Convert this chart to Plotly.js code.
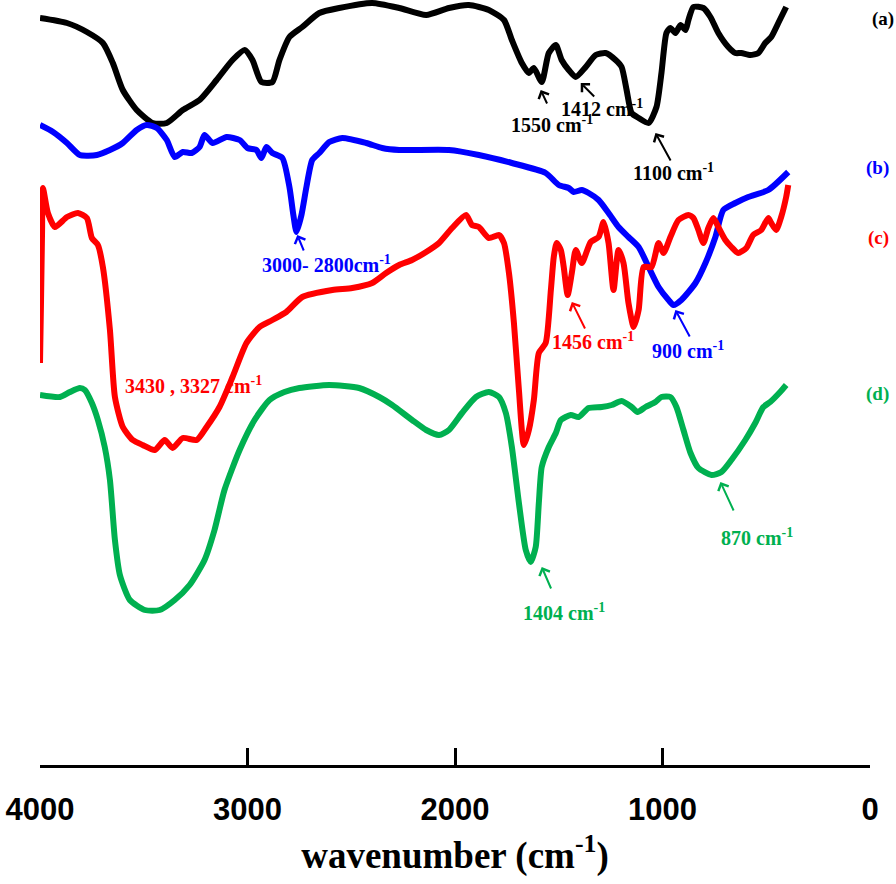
<!DOCTYPE html>
<html>
<head>
<meta charset="utf-8">
<script src="https://cdn.plot.ly/plotly-3.0.1.min.js"></script>
<style>html,body{margin:0;padding:0;background:#fff}#chart{width:896px;height:884px}</style>
</head>
<body>
<div id="chart"></div>
<script>
// FTIR spectra, wavenumber (cm-1) vs transmittance (arbitrary offset units)
const wnA = [4000,3870,3774,3697,3649,3601,3534,3457,3389,3312,3231,3149,3072,3014,2976,2933,2880,2846,2798,2736,2654,2558,2399,2269,2139,2029,1933,1837,1764,1726,1678,1644,1620,1582,1548,1514,1486,1452,1418,1370,1322,1274,1226,1197,1173,1149,1115,1067,1029,1005,981,962,938,913,889,875,851,803,769,731,683,649,620,577,538,505,476,442,404];
const tA  = [747,742,733,722,702,675,655,642,642,655,665,685,705,715,705,683,683,705,728,738,752,757,762,757,750,757,760,755,745,725,702,692,697,683,712,720,705,695,688,698,710,712,705,698,675,652,647,642,658,692,732,737,732,740,735,745,758,757,748,732,718,712,712,710,712,722,728,742,758];

const wnB = [4000,3937,3870,3808,3726,3663,3601,3534,3486,3437,3389,3351,3312,3269,3231,3207,3168,3101,3038,3000,2957,2933,2909,2880,2832,2798,2779,2764,2740,2716,2688,2654,2606,2543,2428,2351,2269,2029,1885,1726,1563,1500,1452,1428,1389,1356,1308,1260,1212,1164,1115,1067,1019,971,947,909,841,793,745,707,649,587,490,394];
const tB  = [640,633,622,610,610,615,622,635,640,637,625,608,613,612,618,630,622,628,625,617,615,607,618,612,607,578,550,533,550,578,605,612,623,627,622,617,615,615,610,602,592,580,577,573,575,572,565,552,538,528,518,498,478,465,460,465,482,502,528,555,562,568,575,593];

const wnC = [4000,3995,3990,3986,3962,3928,3870,3817,3774,3750,3721,3697,3663,3639,3601,3553,3505,3447,3399,3361,3312,3245,3197,3135,3072,3005,2942,2880,2813,2736,2591,2495,2399,2332,2269,2207,2139,2077,2014,1947,1918,1885,1837,1788,1764,1740,1716,1692,1668,1644,1620,1596,1563,1538,1524,1510,1490,1476,1457,1437,1418,1389,1346,1308,1284,1260,1236,1212,1188,1164,1139,1115,1091,1053,1019,995,962,923,875,851,827,803,779,755,731,697,668,635,596,563,524,490,476,452,428,404,394];
const tC  = [402,465,535,577,552,538,548,552,547,527,520,498,435,368,338,325,320,315,325,317,327,325,338,358,388,422,438,445,453,468,475,477,482,492,500,505,513,522,537,550,540,538,527,530,522,492,442,375,320,335,365,412,422,475,508,522,515,498,470,492,515,502,523,528,543,522,475,515,502,462,438,455,498,498,522,512,528,545,550,547,535,522,537,547,538,525,518,512,517,530,535,547,542,535,548,568,580];

const wnD = [4000,3904,3856,3808,3784,3750,3721,3688,3663,3639,3615,3567,3495,3423,3351,3279,3207,3159,3111,3038,2966,2894,2822,2750,2606,2462,2365,2303,2207,2139,2077,2029,1966,1899,1837,1788,1755,1726,1692,1659,1635,1611,1596,1582,1548,1514,1490,1442,1404,1356,1293,1245,1197,1149,1120,1082,1034,1005,962,933,899,865,827,764,716,668,601,553,514,481,433,404];
const tD  = [370,368,373,377,375,362,345,318,285,225,190,165,155,155,165,180,205,235,275,315,345,365,373,377,380,377,368,360,345,335,330,335,352,368,373,368,352,318,262,215,203,218,262,298,318,332,345,350,348,357,358,360,364,358,353,358,363,368,368,358,335,312,297,290,293,305,325,342,358,363,373,380];

const seriesNames = ['(a)','(b)','(c)','(d)'];
const seriesColors = ['#000000','#0000ff','#ff0000','#00b050'];
const tickVals = [4000,3000,2000,1000,0];
const tickText = ['4000','3000','2000','1000','0'];

const peakLabels = [
  {text:'1550 cm<sup>-1</sup>', w:1534, t:641, hw:1587, ht:675, tw:1553, tt:660, c:0},
  {text:'1412 cm<sup>-1</sup>', w:1293, t:657, hw:1394, ht:682, tw:1322, tt:667, c:0},
  {text:'1100 cm<sup>-1</sup>', w:947, t:593, hw:1034, ht:632, tw:957, tt:603, c:0},
  {text:'3000- 2800cm<sup>-1</sup>', w:2620, t:501, hw:2760, ht:530, tw:2726, tt:513, c:1},
  {text:'900 cm<sup>-1</sup>', w:875, t:415, hw:938, ht:455, tw:865, tt:427, c:1},
  {text:'1456 cm<sup>-1</sup>', w:1337, t:424, hw:1437, ht:463, tw:1370, tt:435, c:2},
  {text:'3430 , 3327 cm<sup>-1</sup>', w:3260, t:380, c:2},
  {text:'1404 cm<sup>-1</sup>', w:1476, t:153, hw:1582, ht:198, tw:1534, tt:175, c:3},
  {text:'870 cm<sup>-1</sup>', w:543, t:228, hw:721, ht:283, tw:654, tt:253, c:3}
];

const xs = [wnA,wnB,wnC,wnD], ys = [tA,tB,tC,tD];
const traces = xs.map((x,i)=>({
  x:x, y:ys[i], type:'scatter', mode:'lines', name:seriesNames[i],
  line:{color:seriesColors[i], width:6, shape:'spline', smoothing:0.6},
  hoverinfo:'skip'
}));

const serif = 'Liberation Serif, Times New Roman, serif';
const annotations = [];
peakLabels.forEach(p=>{
  annotations.push({x:p.w, y:p.t, xref:'x', yref:'y', text:p.text, showarrow:false,
    xanchor:'center', yanchor:'middle',
    font:{family:serif, size:20, color:seriesColors[p.c], weight:'bold'}});
  if(p.hw!==undefined){
    annotations.push({x:p.hw, y:p.ht, ax:p.tw, ay:p.tt, xref:'x', yref:'y', axref:'x', ayref:'y',
      text:'', showarrow:true, arrowhead:4, arrowwidth:2, arrowsize:1.1, arrowcolor:seriesColors[p.c], standoff:0});
  }
});
const labelPos = [[1.0156,0.975],[1.0096,0.780],[1.0108,0.689],[1.0096,0.485]];
seriesNames.forEach((n,i)=>{
  annotations.push({x:labelPos[i][0], y:labelPos[i][1], xref:'paper', yref:'paper', text:n, showarrow:false,
    xanchor:'center', yanchor:'middle',
    font:{family:serif, size:19, color:seriesColors[i], weight:'bold'}});
});

const layout = {
  width:896, height:884,
  margin:{l:40, r:26, t:0, b:119, pad:0},
  paper_bgcolor:'#ffffff', plot_bgcolor:'#ffffff',
  showlegend:false,
  xaxis:{
    range:[4000,0], tickvals:tickVals, ticktext:tickText,
    showgrid:false, zeroline:false, showline:true, linecolor:'#000', linewidth:3,
    ticks:'inside', ticklen:17, tickwidth:3, tickcolor:'#000',
    ticklabelstandoff:15,
    tickfont:{family:'Liberation Sans, Arial, sans-serif', size:31, color:'#000', weight:'bold'},
    title:{text:'wavenumber (cm<sup>-1</sup>)', font:{family:serif, size:37, color:'#000', weight:'bold'}, standoff:16},
    automargin:false
  },
  yaxis:{range:[0,765], visible:false, fixedrange:true},
  annotations:annotations
};
Plotly.newPlot('chart', traces, layout, {staticPlot:true, displayModeBar:false});
</script>
</body>
</html>
